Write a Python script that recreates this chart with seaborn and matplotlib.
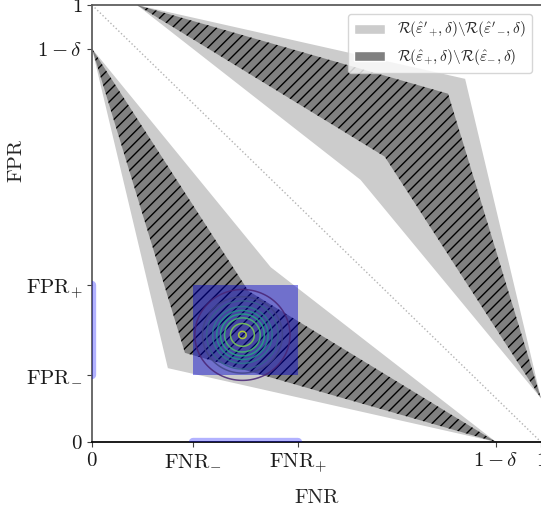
import numpy as np
import matplotlib
matplotlib.use("Agg")
import matplotlib.pyplot as plt
import seaborn as sns
from matplotlib.patches import Patch, Rectangle

# values
delta = 0.1
fnr_lo, fnr_hi = 0.225, 0.458
fpr_lo, fpr_hi = 0.153, 0.359

# region corners, (FNR, FPR)
outer_low_fnr = [0.0, 0.398, 0.9, 0.169]
outer_low_fpr = [0.9, 0.400, 0.0, 0.169]
inner_low_fnr = [0.0, 0.348, 0.9, 0.207]
inner_low_fpr = [0.9, 0.346, 0.0, 0.204]
outer_up_fnr = [0.1, 0.831, 1.0, 0.598]
outer_up_fpr = [1.0, 0.831, 0.1, 0.600]
inner_up_fnr = [0.1, 0.793, 1.0, 0.652]
inner_up_fpr = [1.0, 0.797, 0.1, 0.653]

# error cloud contours: centre, outer half widths, ring sizes (fraction of outer)
err_center = [0.335, 0.245]
err_halfwidth = [0.106, 0.104]
ring_sizes = [0.08, 0.25, 0.375, 0.46, 0.54, 0.625, 0.75, 0.84, 1.0]

x_ticks = [0.0, fnr_lo, fnr_hi, 1 - delta, 1.0]
x_tick_labels = [r"$0$", r"$\mathrm{FNR}_{-}$", r"$\mathrm{FNR}_{+}$", r"$1-\delta$", r"$1$"]
y_ticks = [0.0, fpr_lo, fpr_hi, 1 - delta, 1.0]
y_tick_labels = [r"$0$", r"$\mathrm{FPR}_{-}$", r"$\mathrm{FPR}_{+}$", r"$1-\delta$", r"$1$"]

legend_labels = [
    r"$\mathcal{R}(\hat{\varepsilon}'_{+},\delta)\backslash\mathcal{R}(\hat{\varepsilon}'_{-},\delta)$",
    r"$\mathcal{R}(\hat{\varepsilon}_{+},\delta)\backslash\mathcal{R}(\hat{\varepsilon}_{-},\delta)$",
]

sns.set_theme(style="white")
plt.rcParams["font.family"] = "serif"
plt.rcParams["font.serif"] = ["cmr10", "DejaVu Serif"]
plt.rcParams["mathtext.fontset"] = "cm"
plt.rcParams["axes.unicode_minus"] = False
plt.rcParams["hatch.linewidth"] = 1.0

fig = plt.figure(figsize=(5.41, 5.12), dpi=100)
ax = fig.add_axes([92 / 541, 70 / 512, 449 / 541, 437 / 512])

light, dark = "0.8", "0.5"
ax.fill(outer_low_fnr, outer_low_fpr, color=light, lw=0, zorder=1)
ax.fill(outer_up_fnr, outer_up_fpr, color=light, lw=0, zorder=1)
for fx, fy in [(inner_low_fnr, inner_low_fpr), (inner_up_fnr, inner_up_fpr)]:
    ax.fill(fx, fy, facecolor=dark, edgecolor="black", hatch="///", lw=0, zorder=2)

ax.plot([0, 1], [1, 0], ls=":", color="0.7", lw=1, zorder=1.5)

ax.add_patch(Rectangle((fnr_lo, fpr_lo), fnr_hi - fnr_lo, fpr_hi - fpr_lo,
                       facecolor="mediumblue", alpha=0.45, lw=0, zorder=3))

# contour rings of the error cloud
gx, gy = np.meshgrid(np.linspace(0, 1, 500), np.linspace(0, 1, 500))
dist = np.hypot((gx - err_center[0]) / err_halfwidth[0],
                (gy - err_center[1]) / err_halfwidth[1])
ring_colors = sns.color_palette("viridis", len(ring_sizes))[::-1]
ax.contour(gx, gy, dist, levels=ring_sizes, colors=ring_colors,
           linewidths=1.1, alpha=0.85, zorder=4)

ax.plot([fnr_lo, fnr_hi], [0, 0], color="blue", alpha=0.3, lw=6, zorder=5)
ax.plot([0, 0], [fpr_lo, fpr_hi], color="blue", alpha=0.3, lw=6, zorder=5)

ax.set_xlim(0, 1)
ax.set_ylim(0, 1)
ax.set_xticks(x_ticks)
ax.set_xticklabels(x_tick_labels)
ax.set_yticks(y_ticks)
ax.set_yticklabels(y_tick_labels)
ax.tick_params(direction="out", length=3.5, width=0.8, labelsize=15,
               bottom=True, left=True, colors="0.25", labelcolor="0.1")
ax.set_xlabel("FNR", fontsize=15, labelpad=10)
ax.set_ylabel("FPR", fontsize=15)
ax.yaxis.set_label_coords(-0.148, 0.645)

ax.spines["right"].set_visible(False)
for side in ["left", "top"]:
    ax.spines[side].set_color("0.35")
ax.spines["bottom"].set_color("black")

handles = [Patch(facecolor=light, label=legend_labels[0]),
           Patch(facecolor=dark, label=legend_labels[1])]
ax.legend(handles=handles, loc="upper right", fontsize=11, frameon=True,
          borderaxespad=0.6, labelspacing=0.45)

fig.savefig("out.png", dpi=100)
